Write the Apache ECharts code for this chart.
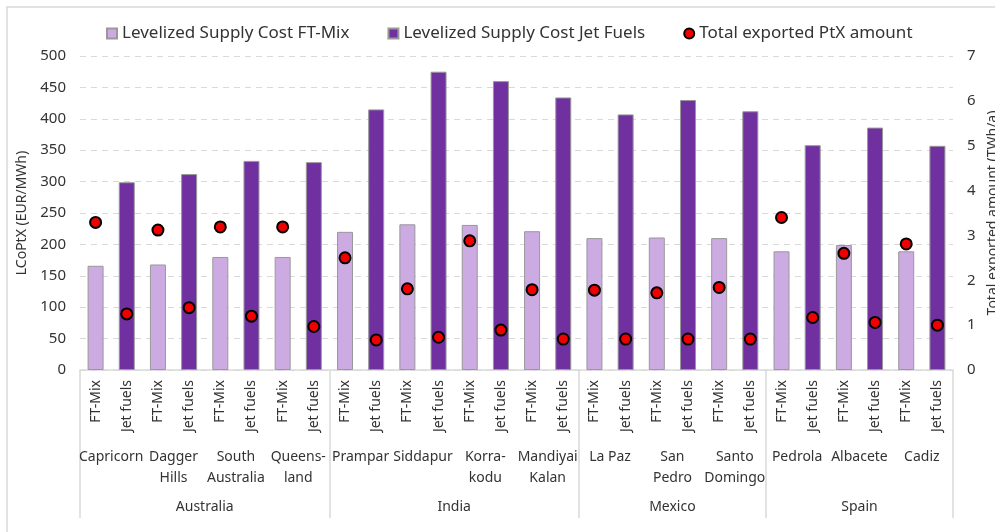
<!DOCTYPE html>
<html>
<head>
<meta charset="utf-8">
<script src="https://cdn.jsdelivr.net/npm/echarts@6/dist/echarts.min.js"></script>
<style>
  html, body { margin: 0; padding: 0; background: #fff; }
  #chart { width: 995px; height: 532px; }
</style>
</head>
<body>
<div id="chart"></div>
<script>
// sites, grouped by country
var sites = ['Capricorn', 'Dagger\nHills', 'South\nAustralia', 'Queens-\nland',
  'Prampar', 'Siddapur', 'Korra-\nkodu', 'Mandiyai\nKalan',
  'La Paz', 'San\nPedro', 'Santo\nDomingo',
  'Pedrola', 'Albacete', 'Cadiz'];
var countries = ['Australia', 'India', 'Mexico', 'Spain'];
var sitesPerCountry = [4, 4, 3, 3];
var products = ['FT-Mix', 'Jet fuels'];

// levelized supply cost (EUR/MWh)
var costFtMix = [166, 168, 180, 180, 220, 232, 231, 221, 210, 211, 210, 189, 199, 189];
var costJet = [299, 312, 333, 331, 415, 475, 460, 434, 407, 430, 412, 358, 386, 357];
// total exported PtX amount (TWh/a)
var exportFtMix = [3.29, 3.12, 3.19, 3.19, 2.50, 1.81, 2.88, 1.79, 1.78, 1.72, 1.84, 3.40, 2.60, 2.81];
var exportJet = [1.25, 1.39, 1.20, 0.97, 0.67, 0.73, 0.89, 0.69, 0.69, 0.69, 0.69, 1.17, 1.06, 1.00];

var leftTicks = [0, 500, 50];
var rightTicks = [0, 7, 1];

// build the 28 bar slots
var barLabels = [], ftData = [], jetData = [], dotData = [];
sites.forEach(function (s, i) {
  barLabels.push(products[0], products[1]);
  ftData.push(costFtMix[i], '-');
  jetData.push('-', costJet[i]);
  dotData.push(exportFtMix[i], exportJet[i]);
});

// country axis: boundary points 0..28, names at middle of each country
var countryLabels = [], countryBounds = [0];
var pos = 0;
sitesPerCountry.forEach(function (n) { pos += n * 2; countryBounds.push(pos); });
for (var k = 0; k <= sites.length * 2; k++) countryLabels.push('');
countries.forEach(function (c, i) {
  countryLabels[(countryBounds[i] + countryBounds[i + 1]) / 2] = c;
});

var font = '"Noto Sans", sans-serif';
var textColor = '#333';
var lineColor = '#d9d9d9';

var chart = echarts.init(document.getElementById('chart'));
var option = {
  animation: false,
  textStyle: { fontFamily: font, color: textColor },
  graphic: [{
    type: 'rect',
    shape: { x: 7, y: 7, width: 1000, height: 540 },
    style: { fill: 'none', stroke: lineColor, lineWidth: 1.5 },
    silent: true
  }],
  legend: {
    left: 101,
    top: 20,
    itemWidth: 10,
    itemHeight: 10,
    itemGap: 38,
    textStyle: { fontSize: 17, color: textColor, fontFamily: font },
    data: [
      { name: 'Levelized Supply Cost FT-Mix', icon: 'rect' },
      { name: 'Levelized Supply Cost Jet Fuels', icon: 'rect' },
      { name: 'Total exported PtX amount', icon: 'circle' }
    ]
  },
  grid: { left: 80, right: 42, top: 56, bottom: 162, outerBoundsMode: 'none' },
  xAxis: [{
    type: 'category',
    data: barLabels,
    axisLine: { lineStyle: { color: lineColor, width: 1.5 } },
    axisTick: {
      interval: function (i) { return i % 2 === 0; },
      length: 118,
      lineStyle: { color: lineColor, width: 1.5 }
    },
    axisLabel: { interval: 0, rotate: 90, margin: 10, fontSize: 14, color: textColor }
  }, {
    type: 'category',
    position: 'bottom',
    data: sites,
    axisLine: { show: false },
    axisTick: { show: false },
    axisLabel: { interval: 0, margin: 77, fontSize: 14, lineHeight: 21, color: textColor }
  }, {
    type: 'category',
    position: 'bottom',
    boundaryGap: false,
    data: countryLabels,
    axisLine: { show: false },
    axisTick: {
      interval: function (i) { return countryBounds.indexOf(i) >= 0; },
      length: 148,
      lineStyle: { color: lineColor, width: 1.5 }
    },
    axisLabel: { interval: 0, margin: 130, fontSize: 14, color: textColor }
  }],
  yAxis: [{
    type: 'value',
    min: leftTicks[0], max: leftTicks[1], interval: leftTicks[2],
    name: 'LCoPtX (EUR/MWh)',
    nameLocation: 'middle',
    nameGap: 49,
    nameTextStyle: { fontSize: 14, color: textColor },
    axisLine: { show: false },
    axisTick: { show: false },
    axisLabel: { fontSize: 15, margin: 14, color: textColor },
    splitLine: { lineStyle: { color: lineColor, type: [6, 5], width: 1.2 } }
  }, {
    type: 'value',
    min: rightTicks[0], max: rightTicks[1], interval: rightTicks[2],
    name: 'Total exported amount (TWh/a)',
    nameLocation: 'middle',
    nameRotate: 90,
    nameGap: 31,
    nameTextStyle: { fontSize: 14, color: textColor },
    axisLine: { show: false },
    axisTick: { show: false },
    axisLabel: { fontSize: 15, margin: 14, color: textColor },
    splitLine: { show: false }
  }],
  series: [{
    name: 'Levelized Supply Cost FT-Mix',
    type: 'bar',
    data: ftData,
    barWidth: 16,
    barGap: '-100%',
    itemStyle: { color: '#CCAAE2', borderColor: '#999', borderWidth: 1 }
  }, {
    name: 'Levelized Supply Cost Jet Fuels',
    type: 'bar',
    data: jetData,
    barWidth: 16,
    barGap: '-100%',
    itemStyle: { color: '#7030A0', borderColor: '#999', borderWidth: 1 }
  }, {
    name: 'Total exported PtX amount',
    type: 'scatter',
    yAxisIndex: 1,
    data: dotData,
    symbolSize: 11,
    z: 5,
    itemStyle: { color: '#F00000', borderColor: '#000', borderWidth: 2, opacity: 1 }
  }]
};
chart.setOption(option);
</script>
</body>
</html>
